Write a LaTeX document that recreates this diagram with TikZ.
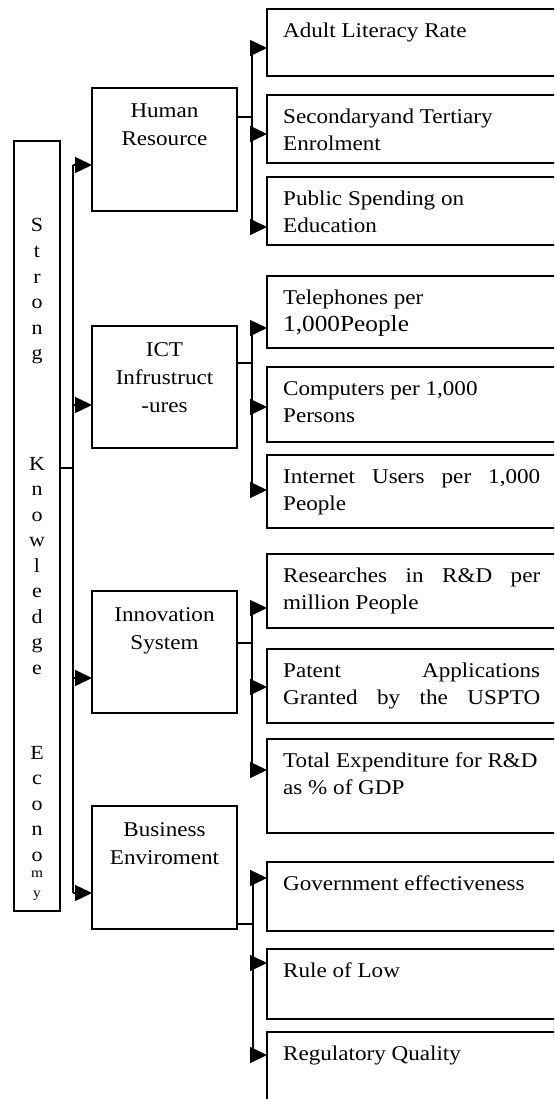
\documentclass[tikz,border=0pt]{standalone}
\usepackage{fontspec}
\setmainfont{Liberation Serif}[FakeStretch=1.1]
\usetikzlibrary{positioning,calc,arrows.meta}
\newcommand{\fullline}[1]{\makebox[257pt][s]{#1}}

\begin{document}
\begin{tikzpicture}
		[x=1pt, y=-1pt,
		box/.style={draw, line width=2.2pt, inner sep=0pt, outer sep=0pt, anchor=north west},
		mid/.style={box, minimum width=145pt, minimum height=122pt},
		leaf/.style={box, minimum width=300pt},
		midtext/.style={anchor=north, align=center, inner sep=0pt, yshift=-16pt, font=\fontsize{21}{28}\selectfont},
		leaftext/.style={anchor=north west, align=left, inner sep=0pt, xshift=16pt, yshift=-14pt, font=\fontsize{21}{27}\selectfont},
		vletter/.style={anchor=base, inner sep=0pt, font=\fontsize{20}{24}\selectfont},
		bus/.style={line width=2.2pt},
		stub/.style={line width=1.5pt},
		feed/.style={line width=1.5pt, -{Triangle[length=17pt, width=16pt]}}]
		\useasboundingbox (0,0) rectangle (554,1099);
		\clip (0,0) rectangle (554,1099);

		% left column
		\node[box, line width=2pt, minimum width=46pt, minimum height=770pt] (ske) at (14,141) {};
		\foreach \ch [count=\i from 0] in {S,t,r,o,n,g}
			\node[vletter] (s-\i) at (37,232+25.5*\i) {\ch};
		\foreach \ch [count=\i from 0] in {K,n,o,w,l,e,d,g,e}
			\node[vletter] (k-\i) at (37,470+25.5*\i) {\ch};
		\foreach \ch [count=\i from 0] in {E,c,o,n,o}
			\node[vletter] (e-\i) at (37,759+25.5*\i) {\ch};
		\node[vletter, font=\fontsize{14}{16}\selectfont] (e-5) at (37,877) {m};
		\node[vletter, font=\fontsize{14}{16}\selectfont] (e-6) at (37,897) {y};

		% middle column
		\node[mid, minimum height=123pt] (hr) at (92,88) {};
		\node[midtext] (hr-t) at (hr.north) {Human\\Resource};
		\node[mid] (ict) at (92,326) {};
		\node[midtext] (ict-t) at (ict.north) {ICT\\Infrustruct\\-ures};
		\node[mid] (inn) at (92,591) {};
		\node[midtext] (inn-t) at (inn.north) {Innovation\\System};
		\node[mid, minimum height=123pt] (biz) at (92,806) {};
		\node[midtext] (biz-t) at (biz.north) {Business\\Enviroment};

		% right column
		\node[leaf, minimum height=67pt] (hr-1) at (267,9) {};
		\node[leaftext] (hr-1-t) at (hr-1.north west) {Adult Literacy Rate};
		\node[leaf, minimum height=68pt] (hr-2) at (267,95) {};
		\node[leaftext] (hr-2-t) at (hr-2.north west) {Secondaryand Tertiary\\Enrolment};
		\node[leaf, minimum height=68pt] (hr-3) at (267,177) {};
		\node[leaftext] (hr-3-t) at (hr-3.north west) {Public Spending on\\Education};

		\node[leaf, minimum height=72pt] (ict-1) at (267,276) {};
		\node[leaftext] (ict-1-t) at (ict-1.north west) {Telephones per\\{\fontsize{23}{27}\selectfont 1,000People}};
		\node[leaf, minimum height=75pt] (ict-2) at (267,367) {};
		\node[leaftext] (ict-2-t) at (ict-2.north west) {Computers per 1,000\\Persons};
		\node[leaf, minimum height=73pt] (ict-3) at (267,455) {};
		\node[leaftext] (ict-3-t) at (ict-3.north west) {\fullline{Internet Users per 1,000}\\People};

		\node[leaf, minimum height=74pt] (inn-1) at (267,554) {};
		\node[leaftext] (inn-1-t) at (inn-1.north west) {\fullline{Researches in R\&D per}\\million People};
		\node[leaf, minimum height=74pt] (inn-2) at (267,649) {};
		\node[leaftext] (inn-2-t) at (inn-2.north west) {\fullline{Patent Applications}\\\fullline{Granted by the USPTO}};
		\node[leaf, minimum height=94pt] (inn-3) at (267,739) {};
		\node[leaftext] (inn-3-t) at (inn-3.north west) {Total Expenditure for R\&D\\as \% of GDP};

		\node[leaf, minimum height=69pt] (biz-1) at (267,862) {};
		\node[leaftext] (biz-1-t) at (biz-1.north west) {Government effectiveness};
		\node[leaf, minimum height=70pt] (biz-2) at (267,949) {};
		\node[leaftext] (biz-2-t) at (biz-2.north west) {Rule of Low};
		\node[leaf, minimum height=100pt] (biz-3) at (267,1032) {};
		\node[leaftext] (biz-3-t) at (biz-3.north west) {Regulatory Quality};

		% connectors
		\draw[stub] (ske.east |- 0,468) -- ++(13,0) coordinate (mb);
		\draw[bus] (mb |- 0,165) -- (mb |- 0,893);
		\foreach \b/\y in {hr/165, ict/405, inn/678, biz/893}
			\draw[feed] (mb |- 0,\y) -- (\b.west |- 0,\y);

		\draw[stub] (hr.east |- 0,117) -- ++(15,0) coordinate (hb);
		\draw[bus] (hb |- 0,48) -- (hb |- 0,227);
		\foreach \b/\y in {hr-1/48, hr-2/134, hr-3/227}
			\draw[feed] (hb |- 0,\y) -- (\b.west |- 0,\y);

		\draw[stub] (ict.east |- 0,363) -- ++(15,0) coordinate (ib);
		\draw[bus] (ib |- 0,328) -- (ib |- 0,490);
		\foreach \b/\y in {ict-1/328, ict-2/407, ict-3/490}
			\draw[feed] (ib |- 0,\y) -- (\b.west |- 0,\y);

		\draw[stub] (inn.east |- 0,643) -- ++(15,0) coordinate (nb);
		\draw[bus] (nb |- 0,608) -- (nb |- 0,770);
		\foreach \b/\y in {inn-1/608, inn-2/687, inn-3/770}
			\draw[feed] (nb |- 0,\y) -- (\b.west |- 0,\y);

		\draw[stub] (biz.east |- 0,924) -- ++(16,0) coordinate (bb);
		\draw[bus] (bb |- 0,878) -- (bb |- 0,1055);
		\foreach \b/\y in {biz-1/878, biz-2/963, biz-3/1055}
			\draw[feed] (bb |- 0,\y) -- (\b.west |- 0,\y);
	\end{tikzpicture}
\end{document}
